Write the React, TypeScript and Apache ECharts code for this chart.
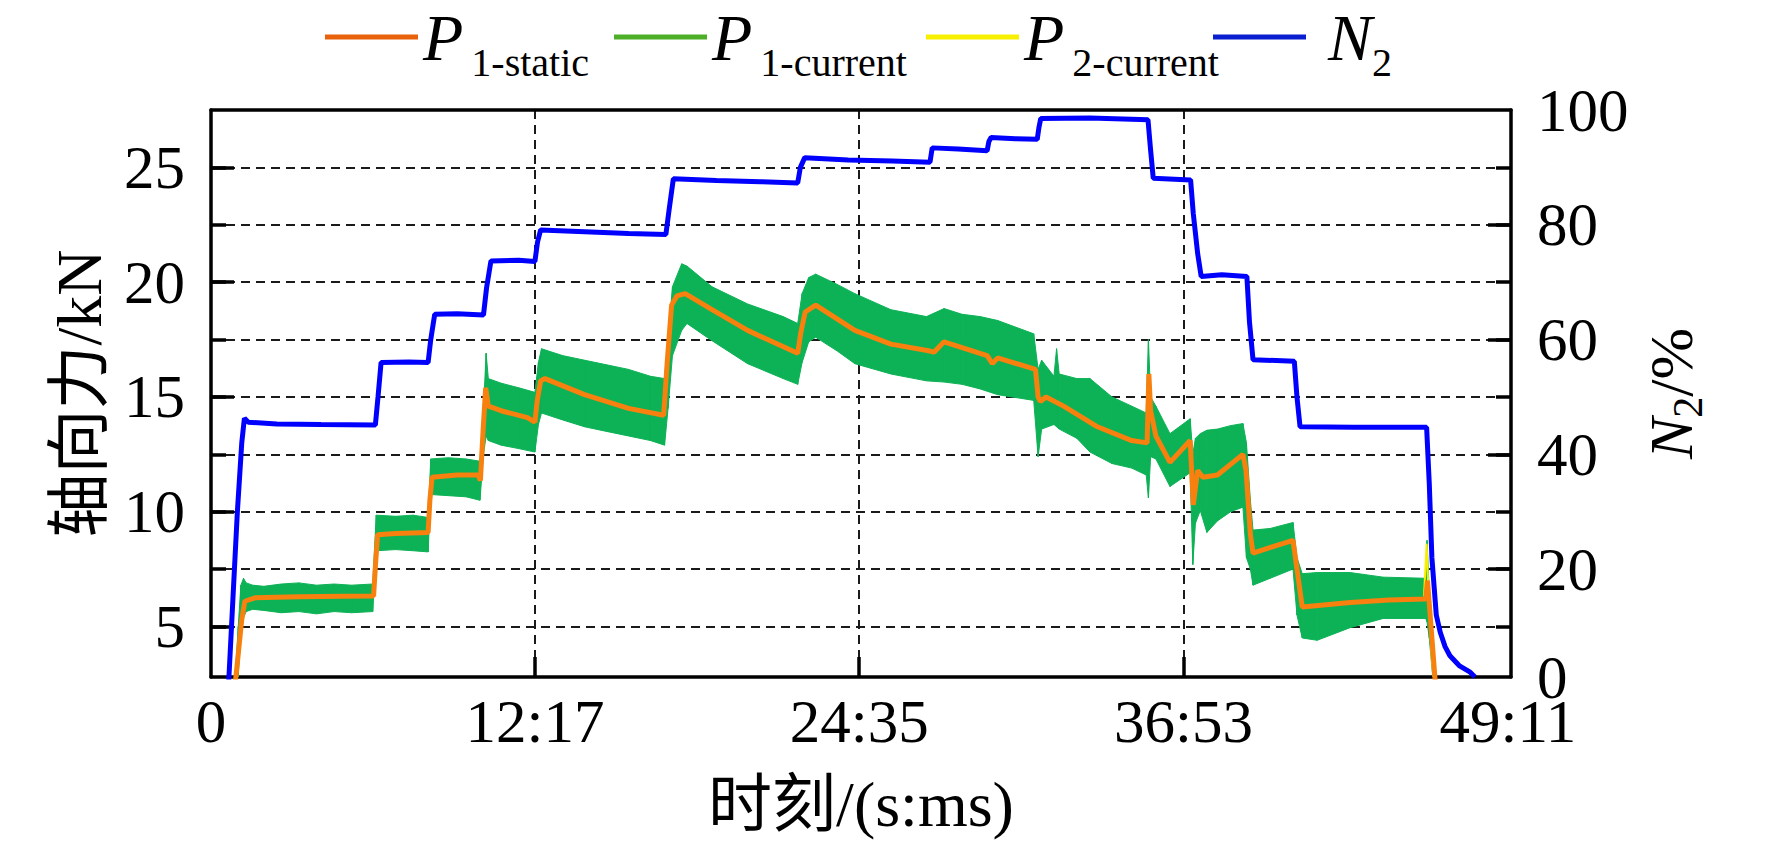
import React, { useEffect, useRef } from "react";
import * as echarts from "echarts";

const SERIF = "'Liberation Serif', 'Times New Roman', 'Noto Sans CJK SC', serif";

// x axis (seconds), ticks and labels
const xTickValues = [737, 1475, 2213];
const xLabelValues = [0, 737, 1475, 2213, 2951];
const xMax = 2958;

// left axis (kN)
const leftMin = 2.8;
const leftMax = 27.5;
const leftMinorTicks = [5, 7.5, 10, 12.5, 15, 17.5, 20, 22.5, 25];
const leftMajorTicks = [5, 10, 15, 20, 25];

// right axis (N2 %)
const rightMin = 1.2;
const rightMax = 100;
const rightMinorTicks = [10, 20, 30, 40, 50, 60, 70, 80, 90];
const rightMajorTicks = [20, 40, 60, 80];
const rightLabelValues = [1.2, 20, 40, 60, 80, 100];

// P1-current envelope (green band)
const bandTime = [
  55, 62, 68, 74, 80, 95, 120, 160, 200, 240, 280, 320, 368,
  376, 420, 460, 494,
  500, 540, 580, 612,
  620, 626, 631, 660, 700, 737,
  745, 752, 800, 850, 900, 950, 1000, 1032,
  1040, 1050, 1071, 1083, 1140, 1221, 1302, 1335,
  1345, 1360, 1376, 1425, 1465, 1547, 1628, 1668, 1709, 1750, 1790, 1872,
  1882, 1890, 1918, 1924, 1930, 1970, 2000, 2050, 2095, 2128,
  2133, 2138, 2150, 2182, 2228,
  2234, 2240, 2251, 2266, 2290, 2320, 2348,
  2356, 2365, 2371, 2410, 2462,
  2471, 2483, 2517, 2592, 2667, 2764,
  2767, 2772, 2780, 2788,
];
const bandUpper = [
  2.8, 5.0, 6.8, 7.1, 6.9, 6.8, 6.75, 6.85, 6.9, 6.8, 6.85, 6.8, 6.85,
  9.85, 9.8, 9.85, 9.75,
  12.3, 12.35, 12.3, 12.2,
  14.5, 16.9, 15.8, 15.6, 15.4, 15.2,
  16.5, 17.1, 16.8, 16.6, 16.4, 16.2, 15.9, 15.8,
  17.5, 19.8, 20.8, 20.7, 19.8, 19.05, 18.5, 18.2,
  19.5, 20.2, 20.35, 19.9, 19.5, 18.8, 18.5, 18.85, 18.6, 18.5, 18.33, 17.75,
  16.2, 16.6, 15.9, 17.1, 16.0, 15.8, 15.8, 15.0, 14.6, 14.3,
  17.5, 15.0, 14.6, 13.4, 14.05,
  12.5, 13.2, 13.4, 13.55, 13.6, 13.75, 13.84,
  13.0, 10.5, 9.2, 9.27, 9.53,
  8.0, 7.3, 7.35, 7.35, 7.15, 7.1,
  8.75, 6.5, 3.5, 2.6,
];
const bandLower = [
  2.6, 2.8, 4.8, 5.4, 5.65, 5.75, 5.7, 5.6, 5.65, 5.55, 5.65, 5.6, 5.65,
  8.3, 8.35, 8.3, 8.25,
  10.75, 10.7, 10.65, 10.5,
  12.5, 13.3, 13.1, 12.9, 12.75, 12.6,
  13.8, 14.3, 14.0, 13.7, 13.5, 13.3, 13.1, 12.9,
  14.5, 16.8, 17.9, 18.2, 17.45, 16.45, 15.8, 15.55,
  16.5, 17.4, 17.6, 17.0, 16.45, 16.0, 15.7, 15.65, 15.55, 15.35, 15.1, 14.85,
  12.4, 13.6, 13.8, 13.7, 13.6, 13.2, 12.6, 12.1, 11.9, 11.6,
  10.6, 12.4, 12.3, 11.1, 11.7,
  7.7, 9.5, 10.05, 9.1, 9.6, 10.0, 10.2,
  8.0, 7.5, 6.8, 7.1, 7.5,
  5.5, 4.5, 4.4, 4.95, 5.35, 5.35,
  5.2, 4.5, 2.8, 2.5,
];

// P1-static (orange)
const p1Static: [number, number][] = [
  [55, 2.5], [62, 3.8], [70, 5.3], [77, 6.1], [100, 6.25], [200, 6.3], [300, 6.32], [370, 6.33],
  [374, 7.6], [379, 9.0], [420, 9.05], [494, 9.1],
  [498, 10.5], [503, 11.5], [560, 11.6], [608, 11.6], [613, 11.35],
  [619, 13.5], [625, 15.4], [631, 14.6], [660, 14.4], [720, 14.1], [737, 13.9],
  [742, 14.8], [750, 15.7], [760, 15.8], [850, 15.1], [950, 14.5], [1030, 14.2],
  [1038, 16.5], [1048, 19.0], [1060, 19.4], [1079, 19.5], [1140, 18.8], [1221, 17.9], [1335, 16.9],
  [1342, 17.8], [1352, 18.7], [1376, 19.0], [1465, 17.9], [1547, 17.3], [1636, 17.0], [1645, 16.95],
  [1668, 17.4], [1766, 16.8], [1778, 16.45], [1790, 16.7], [1876, 16.2],
  [1882, 15.0], [1887, 14.8], [1900, 15.0], [1940, 14.6], [2017, 13.7], [2095, 13.1], [2130, 13.0],
  [2134, 16.0], [2138, 14.4], [2150, 13.3], [2182, 12.15], [2228, 13.1],
  [2235, 10.3], [2245, 11.8], [2257, 11.5], [2290, 11.6], [2348, 12.5],
  [2355, 11.8], [2365, 9.0], [2371, 8.2], [2420, 8.5], [2462, 8.75],
  [2471, 7.5], [2483, 5.85], [2592, 6.05], [2680, 6.15], [2764, 6.2],
  [2768, 7.0], [2774, 5.5], [2786, 2.5],
];

// P2-current (yellow, visible only at the end)
const p2Current: [number, number][] = [
  [2760, 6.3], [2766, 8.6], [2770, 6.6], [2778, 3.5], [2784, 2.6],
];

// N2 (blue, right axis)
const n2: [number, number][] = [
  [40, 0], [50, 15], [60, 30], [70, 42], [76, 46.3], [85, 45.6], [150, 45.3], [250, 45.2], [374, 45.1],
  [380, 50], [387, 56.0], [450, 56.1], [494, 56.0],
  [500, 60], [509, 64.4], [560, 64.5], [620, 64.3],
  [627, 69], [637, 73.7], [700, 73.8], [737, 73.6],
  [743, 77], [750, 79.1], [850, 78.8], [950, 78.5], [1035, 78.3],
  [1043, 83], [1052, 88.0], [1150, 87.7], [1250, 87.5], [1335, 87.3],
  [1341, 90], [1351, 91.7], [1450, 91.3], [1550, 91.1], [1636, 90.9],
  [1641, 93.4], [1700, 93.2], [1766, 92.9],
  [1770, 94.5], [1775, 95.2], [1830, 95.0], [1880, 94.9],
  [1884, 97], [1888, 98.5], [2000, 98.6], [2132, 98.3],
  [2138, 93], [2144, 88.1], [2229, 87.8],
  [2235, 82], [2245, 75], [2253, 71.0], [2300, 71.3], [2357, 71.0],
  [2363, 63], [2371, 56.5], [2465, 56.2],
  [2471, 50], [2478, 44.8], [2600, 44.7], [2766, 44.7],
  [2772, 35], [2778, 22], [2788, 12], [2797, 9], [2808, 6.5], [2819, 4.9], [2840, 3.2], [2864, 2.1], [2876, 1.2],
];

const GREEN = "#0DB256";

const fmtTime = (v: number) =>
  v === 0 ? "0" : `${Math.floor(v / 60)}:${String(Math.round(v % 60)).padStart(2, "0")}`;

const legendRich = {
  p: { fontFamily: SERIF, fontStyle: "italic", fontSize: 66, lineHeight: 64, color: "#000" },
  n: { fontFamily: SERIF, fontStyle: "italic", fontSize: 66, lineHeight: 64, color: "#000", padding: [0, 0, 0, 17] },
  s: { fontFamily: SERIF, fontSize: 40, lineHeight: 26, verticalAlign: "top", color: "#000", padding: [38, 0, 0, 8] },
  s2: { fontFamily: SERIF, fontSize: 40, lineHeight: 26, verticalAlign: "top", color: "#000", padding: [38, 0, 0, 0] },
};

const makeLegend = (name: string, left: number, text: string, color: string) => ({
  show: true,
  left,
  top: 4,
  padding: 0,
  itemGap: 0,
  icon: "rect",
  itemWidth: 93,
  itemHeight: 5,
  selectedMode: false,
  data: [{ name, itemStyle: { color } }],
  formatter: () => text,
  textStyle: { rich: legendRich },
});

const dashed = { color: "#1a1a1a", width: 2, type: [9, 6] };
const frame = { color: "#000", width: 3.5 };

export default function App() {
  const ref = useRef<HTMLDivElement>(null);
  useEffect(() => {
    const chart = echarts.init(ref.current!, undefined, { renderer: "svg" });
    const bandSegments = bandTime.slice(0, -1).map((t, i) => [
      t, bandUpper[i], bandLower[i], bandTime[i + 1], bandUpper[i + 1], bandLower[i + 1],
    ]);
    const option: any = {
      animation: false,
      backgroundColor: "#fff",
      textStyle: { fontFamily: SERIF },
      legend: [
        makeLegend("P1-static", 325, "{p|P}{s|1-static}", "#E8620C"),
        makeLegend("P1-current", 614, "{p|P}{s|1-current}", "#4DAF27"),
        makeLegend("P2-current", 926, "{p|P}{s|2-current}", "#F7F000"),
        makeLegend("N2", 1213, "{n|N}{s2|2}", "#0A1FD0"),
      ],
      grid: { left: 211, top: 110, width: 1300, height: 567, containLabel: false },
      xAxis: [
        {
          type: "value",
          position: "bottom",
          min: 0,
          max: xMax,
          axisLine: { show: true, onZero: false, lineStyle: frame },
          axisTick: { show: true, inside: true, length: 20, customValues: xTickValues, lineStyle: frame },
          axisLabel: {
            customValues: xLabelValues,
            formatter: fmtTime,
            fontSize: 61,
            fontFamily: SERIF,
            color: "#000",
            margin: 14,
          },
          splitLine: { show: true, lineStyle: dashed },
          name: "时刻/(s:ms)",
          nameLocation: "middle",
          nameGap: 95,
          nameTextStyle: { fontSize: 64, fontFamily: SERIF, color: "#000" },
        },
        {
          type: "value",
          position: "top",
          min: 0,
          max: xMax,
          axisLine: { show: true, onZero: false, lineStyle: frame },
          axisTick: { show: false },
          axisLabel: { show: false },
          splitLine: { show: false },
        },
      ],
      yAxis: [
        {
          type: "value",
          position: "left",
          min: leftMin,
          max: leftMax,
          axisLine: { show: true, onZero: false, lineStyle: frame },
          axisTick: { show: true, inside: true, length: 15, customValues: leftMinorTicks, lineStyle: frame },
          axisLabel: {
            customValues: leftMajorTicks,
            fontSize: 61,
            fontFamily: SERIF,
            color: "#000",
            margin: 26,
          },
          splitLine: { show: true, lineStyle: dashed },
          name: "轴向力/kN",
          nameLocation: "middle",
          nameGap: 100,
          nameTextStyle: { fontSize: 64, fontFamily: SERIF, color: "#000" },
        },
        {
          type: "value",
          position: "left",
          min: leftMin,
          max: leftMax,
          axisLine: { show: false, onZero: false },
          axisTick: { show: true, inside: true, length: 23, customValues: leftMajorTicks, lineStyle: frame },
          axisLabel: { show: false },
          splitLine: { show: false },
        },
        {
          type: "value",
          position: "right",
          min: rightMin,
          max: rightMax,
          axisLine: { show: true, onZero: false, lineStyle: frame },
          axisTick: { show: true, inside: true, length: 15, customValues: rightMinorTicks, lineStyle: frame },
          axisLabel: {
            customValues: rightLabelValues,
            formatter: (v: number) => (v < 10 ? "0" : String(v)),
            fontSize: 61,
            fontFamily: SERIF,
            color: "#000",
            margin: 26,
          },
          splitLine: { show: false },
          name: "{n|N}{s|2}{t|/%}",
          nameLocation: "middle",
          nameGap: 122,
          nameRotate: 90,
          nameTextStyle: {
            rich: {
              n: { fontFamily: SERIF, fontStyle: "italic", fontSize: 62, lineHeight: 76, color: "#000" },
              s: { fontFamily: SERIF, fontSize: 42, lineHeight: 42, verticalAlign: "bottom", color: "#000" },
              t: { fontFamily: SERIF, fontSize: 62, lineHeight: 76, color: "#000" },
            },
          },
        },
        {
          type: "value",
          position: "right",
          min: rightMin,
          max: rightMax,
          axisLine: { show: false, onZero: false },
          axisTick: { show: true, inside: true, length: 23, customValues: rightMajorTicks, lineStyle: frame },
          axisLabel: { show: false },
          splitLine: { show: false },
        },
      ],
      series: [
        {
          name: "P1-current",
          type: "custom",
          xAxisIndex: 0,
          yAxisIndex: 0,
          data: bandSegments,
          encode: { x: [0, 3], y: [1, 2, 4, 5] },
          silent: true,
          clip: true,
          itemStyle: { color: GREEN },
          z: 2,
          renderItem: (params: any, api: any) => {
            const a = api.coord([api.value(0), api.value(1)]);
            const b = api.coord([api.value(3), api.value(4)]);
            const c = api.coord([api.value(3), api.value(5)]);
            const d = api.coord([api.value(0), api.value(2)]);
            const cs = params.coordSys;
            const pts = echarts.graphic.clipPointsByRect([a, b, c, d], {
              x: cs.x, y: cs.y, width: cs.width, height: cs.height,
            });
            return {
              type: "polygon",
              shape: { points: pts },
              style: { fill: GREEN, stroke: GREEN, lineWidth: 1 },
            };
          },
        },
        {
          name: "P2-current",
          type: "line",
          xAxisIndex: 0,
          yAxisIndex: 0,
          data: p2Current,
          symbol: "none",
          color: "#F7F000",
          lineStyle: { width: 2, color: "#F7F000" },
          z: 3,
        },
        {
          name: "P1-static",
          type: "line",
          xAxisIndex: 0,
          yAxisIndex: 0,
          data: p1Static,
          symbol: "none",
          color: "#F7800E",
          lineStyle: { width: 5, color: "#F7800E" },
          z: 4,
        },
        {
          name: "N2",
          type: "line",
          xAxisIndex: 0,
          yAxisIndex: 2,
          data: n2,
          symbol: "none",
          color: "#0000FF",
          lineStyle: { width: 5, color: "#0000FF" },
          z: 5,
        },
      ],
    };
    chart.setOption(option);
    return () => chart.dispose();
  }, []);
  return (
    <div
      ref={ref}
      style={{ position: "fixed", left: 0, top: 0, width: 1772, height: 855, background: "#fff" }}
    />
  );
}
